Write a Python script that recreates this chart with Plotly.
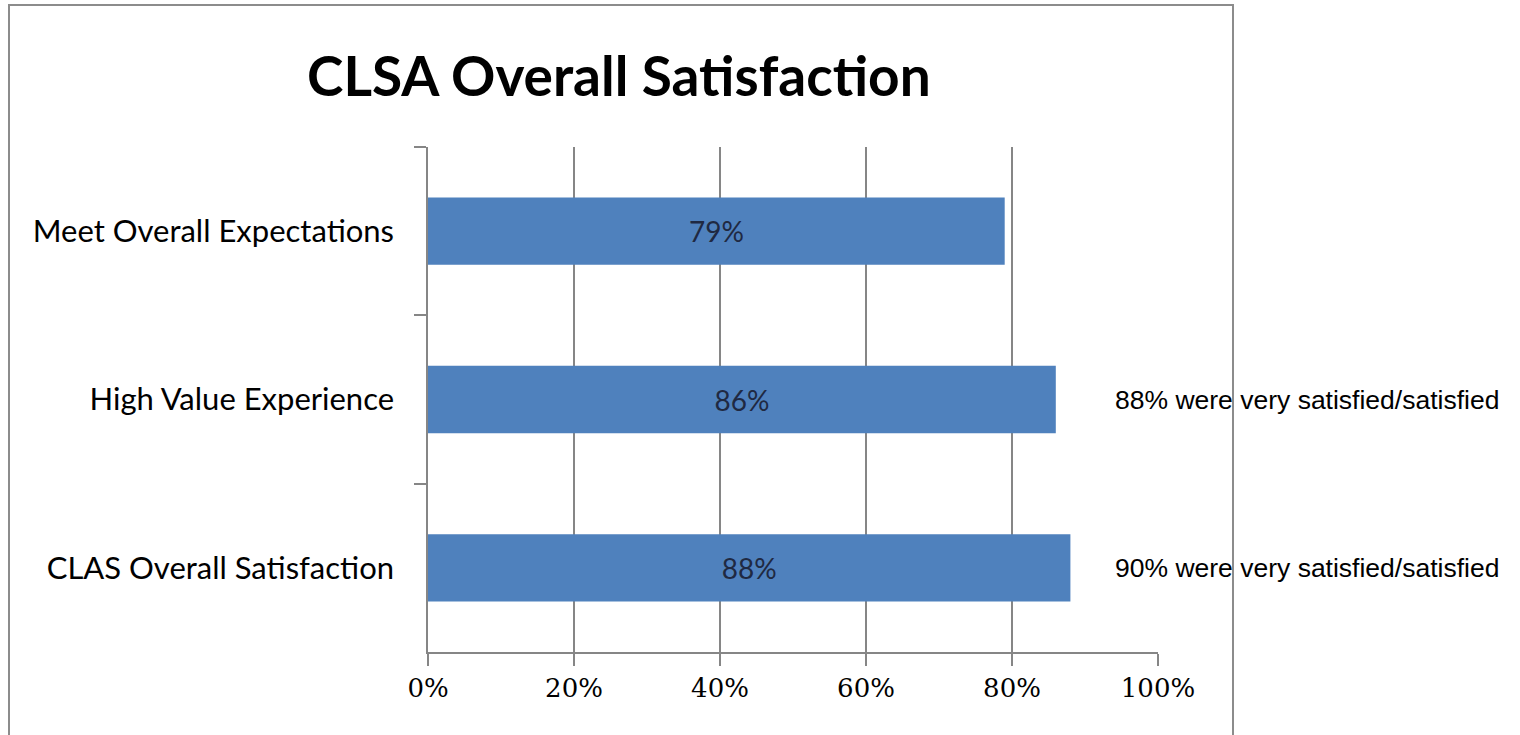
import plotly.graph_objects as go

categories = ["Meet Overall Expectations", "High Value Experience", "CLAS Overall Satisfaction"]
values = [79, 86, 88]
bar_labels = ["79%", "86%", "88%"]
note_categories = ["High Value Experience", "CLAS Overall Satisfaction"]
note_texts = ["88% were very satisfied/satisfied", "90% were very satisfied/satisfied"]
tick_vals = [0, 20, 40, 60, 80, 100]
tick_text = ["0%", "20%", "40%", "60%", "80%", "100%"]
title_text = "CLSA Overall Satisfaction"

W, H = 1520, 735
L, R, T, B = 428, 1158, 147, 652

def px_x(p):
    return (p - L) / (R - L)

def px_y(p):
    return (B - p) / (B - T)

fig = go.Figure()
fig.add_trace(go.Bar(
    y=categories, x=values, orientation="h",
    marker=dict(color="#4F81BD", line=dict(width=0)),
    width=0.4,
    text=bar_labels, textposition="inside", insidetextanchor="middle",
    textfont=dict(family="Lato", size=28, color="#1f2942"),
    hoverinfo="skip",
))

annotations = []
for c, t in zip(note_categories, note_texts):
    annotations.append(dict(
        x=px_x(1113), xref="paper", y=c, yref="y", text=t, showarrow=False,
        xanchor="left", yanchor="middle",
        font=dict(family="Liberation Sans", size=26.5, color="#000000"),
    ))
annotations.append(dict(
    x=px_x(619), xref="paper", y=px_y(75), yref="paper", text="<b>" + title_text + "</b>",
    showarrow=False, xanchor="center", yanchor="middle",
    font=dict(family="Lato", size=55, color="#000000"),
))

shapes = [dict(
    type="rect", xref="paper", yref="paper",
    x0=px_x(9), x1=px_x(1233), y0=px_y(760), y1=px_y(5),
    line=dict(color="#8c8c8c", width=2), layer="above",
)]

fig.update_layout(
    width=W, height=H,
    margin=dict(l=L, r=W - R, t=T, b=H - B, pad=0),
    paper_bgcolor="white", plot_bgcolor="white",
    showlegend=False,
    annotations=annotations,
    shapes=shapes,
    bargap=0.6,
)
fig.update_xaxes(
    range=[0, 100], tickvals=tick_vals, ticktext=tick_text,
    showgrid=True, gridcolor="#868686", gridwidth=1.5,
    showline=True, linecolor="#868686", linewidth=1.5,
    ticks="outside", ticklen=12, tickcolor="#868686", tickwidth=1.5,
    tickfont=dict(family="DejaVu Serif", size=26, color="#000000"),
    zeroline=False, fixedrange=True,
)
fig.update_yaxes(
    categoryorder="array", categoryarray=categories, autorange="reversed",
    showgrid=False, showline=True, linecolor="#868686", linewidth=1.5,
    ticks="outside", ticklen=12, tickcolor="#868686", tickwidth=1.5,
    tickson="boundaries", ticklabelstandoff=26,
    tickfont=dict(family="Lato", size=31, color="#000000"),
    fixedrange=True,
)

fig.write_html(
    "out.html",
    config={"displayModeBar": False},
    post_script="document.body.style.margin='0';document.body.style.overflow='hidden';",
)
